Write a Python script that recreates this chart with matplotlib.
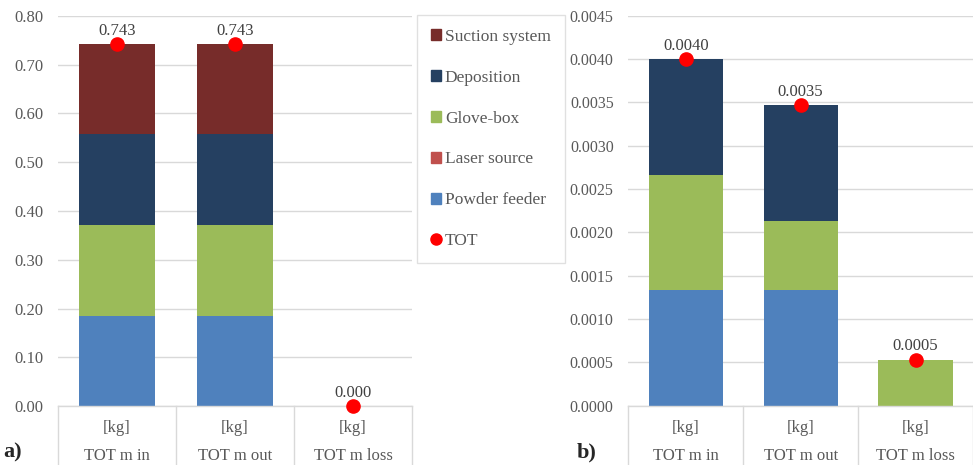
import matplotlib.pyplot as plt
import matplotlib.transforms as mtransforms
from matplotlib.lines import Line2D
from matplotlib.patches import Patch

plt.rcParams['font.family'] = ['Liberation Serif', 'DejaVu Serif']
plt.rcParams['font.size'] = 12

# data
categories = ["TOT m in", "TOT m out", "TOT m loss"]
units = ["[kg]", "[kg]", "[kg]"]
series = ["Powder feeder", "Laser source", "Glove-box", "Deposition", "Suction system"]
colors = ["#4F81BD", "#C0504D", "#9BBB59", "#254061", "#772C2A"]

a_powder = [0.1857, 0.1857, 0.0]
a_laser = [0.0, 0.0, 0.0]
a_glove = [0.1857, 0.1857, 0.0]
a_deposition = [0.1857, 0.1857, 0.0]
a_suction = [0.1859, 0.1859, 0.0]
a_tot = [0.743, 0.743, 0.000]

b_powder = [0.001333, 0.001333, 0.0]
b_laser = [0.0, 0.0, 0.0]
b_glove = [0.001333, 0.0008, 0.000533]
b_deposition = [0.001333, 0.001333, 0.0]
b_suction = [0.0, 0.0, 0.0]
b_tot = [0.003999, 0.003466, 0.000533]

text_col = "#595959"
grid_col = "#d9d9d9"

W, H = 973, 465
fig = plt.figure(figsize=(W / 100, H / 100), dpi=100)
ax1 = fig.add_axes([58 / W, (H - 406.3) / H, (412 - 58) / W, 390.6 / H])
ax2 = fig.add_axes([628.3 / W, (H - 405.7) / H, (973 - 628.3) / W, 390 / H])


def draw(ax, stacks, tot, ymax, step, tick_fmt, lab_fmt, tick_size):
    x = range(len(categories))
    bottom = [0.0] * len(categories)
    for vals, col in zip(stacks, colors):
        ax.bar(x, vals, 0.645, bottom=bottom, color=col, zorder=2)
        bottom = [b + v for b, v in zip(bottom, vals)]
    ax.plot(x, tot, 'o', color='red', markersize=9.5, zorder=4, clip_on=False)
    for xi, v in zip(x, tot):
        ax.annotate(lab_fmt.format(v), (xi, v), xytext=(0, 6.5), textcoords='offset points',
                    ha='center', va='baseline', color='#404040', fontsize=12)
    ax.set_xlim(-0.5, 2.5)
    ax.set_ylim(0, ymax)
    ticks = [i * step for i in range(int(round(ymax / step)) + 1)]
    ax.set_yticks(ticks)
    ax.set_yticklabels([tick_fmt.format(t) for t in ticks])
    ax.tick_params(axis='y', length=0, colors=text_col, labelsize=tick_size, pad=10.5)
    ax.set_xticks([])
    ax.grid(axis='y', color=grid_col, linewidth=1, zorder=0)
    for s in ['top', 'right', 'left']:
        ax.spines[s].set_visible(False)
    ax.spines['bottom'].set_color(grid_col)
    ax.spines['bottom'].set_linewidth(1)
    # category boxes below the axis
    trans = mtransforms.blended_transform_factory(ax.transData, ax.transAxes)
    depth = -62 / 390.0
    for b in [-0.5, 0.5, 1.5, 2.5]:
        ax.plot([b, b], [0, depth], color=grid_col, lw=1, transform=trans, clip_on=False)
    for xi, (u, c) in enumerate(zip(units, categories)):
        ax.text(xi, -22 / 390.0, u, transform=trans, ha='center', va='center', color=text_col)
        ax.text(xi, -50 / 390.0, c, transform=trans, ha='center', va='center', color=text_col)


draw(ax1, [a_powder, a_laser, a_glove, a_deposition, a_suction], a_tot, 0.8, 0.1, "{:.2f}", "{:.3f}", 12)
draw(ax2, [b_powder, b_laser, b_glove, b_deposition, b_suction], b_tot, 0.0045, 0.0005, "{:.4f}", "{:.4f}", 11.5)

fig.text(3 / W, 1 - 452 / H, "a)", fontsize=16, fontweight='bold', color='#262626', va='center')
fig.text(577 / W, 1 - 452 / H, "b)", fontsize=16, fontweight='bold', color='#262626', va='center')

handles = [Patch(color=c) for c in colors[::-1]]
labels = series[::-1]
handles.append(Line2D([], [], marker='o', color='red', linestyle='none', markersize=8))
labels.append("TOT")
leg = fig.legend(handles, labels, loc='upper left', bbox_to_anchor=(417 / W, 1 - 15 / H),
                 frameon=True, fancybox=False, edgecolor=grid_col, fontsize=12.5,
                 labelspacing=1.43, borderpad=0.8, handlelength=0.6, handleheight=0.6,
                 handletextpad=0.2, borderaxespad=0)
leg.get_frame().set_linewidth(1)
for t in leg.get_texts():
    t.set_color(text_col)

fig.savefig("out.png", dpi=100)
